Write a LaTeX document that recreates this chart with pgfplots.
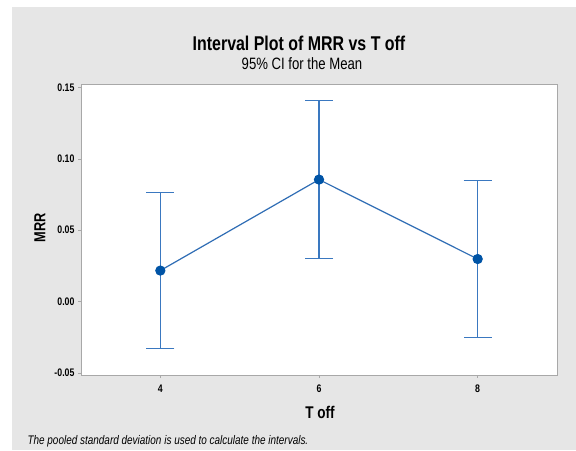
\documentclass[border=0pt]{standalone}
\usepackage{pgfplots}
\pgfplotsset{compat=1.18}
\usepackage{fontspec}
\setmainfont{Liberation Sans}[FakeStretch=0.8]
\definecolor{bg}{HTML}{E6E6E6}
\definecolor{errblue}{HTML}{3A78C0}
\definecolor{lineblue}{HTML}{2F6DB5}
\definecolor{dotblue}{HTML}{0054A6}
\definecolor{frame}{HTML}{A8A8A8}
\begin{document}
\begin{tikzpicture}[x=1bp,y=1bp]
\fill[white] (0,0) rectangle (576,450);
\fill[bg] (12,0) rectangle (576,443);
\begin{axis}[at={(81bp,75bp)}, anchor=south west, scale only axis,
 width=476bp, height=291bp,
 xmin=3, xmax=9, ymin=-0.0515, ymax=0.1525,
 xtick={4,6,8}, ytick={-0.05,0,0.05,0.1,0.15},
 yticklabel style={/pgf/number format/.cd, fixed, fixed zerofill, precision=2},
 /pgf/number format/assume math mode=true,
 axis line style={draw=frame}, tick style={draw=frame, line width=0.6bp},
 tick align=outside, xtick pos=bottom, ytick pos=left, major tick length=3bp,
 ticklabel style={font=\fontsize{11}{12}\selectfont\bfseries},
 xticklabel style={yshift=-3bp},
 axis background/.style={fill=white},
 clip=false]
\addplot[draw=none, mark=none, forget plot,
  error bars/.cd, y dir=both, y explicit, error mark=|,
  error bar style={errblue, line width=1.2bp},
  error mark options={errblue, line width=1.2bp, mark size=14bp}]
  coordinates {(4,0.0217) +- (0,0.0546) (6,0.0855) +- (0,0.0553) (8,0.0298) +- (0,0.0550)};
\addplot[lineblue, line width=1.2bp, mark=*, mark size=4.5bp,
  mark options={fill=dotblue, draw=dotblue}]
  coordinates {(4,0.0217) (6,0.0855) (8,0.0298)};
\end{axis}
\node[font=\fontsize{20}{22}\selectfont\bfseries] at (299,407) {Interval Plot of MRR vs T off};
\node[font=\fontsize{16.5}{17}\selectfont] at (302,386) {95\% CI for the Mean};
\node[font=\fontsize{16}{16}\selectfont\bfseries, rotate=90] at (40,222) {MRR};
\node[font=\fontsize{17}{17}\selectfont\bfseries] at (320,38) {T off};
\node[font=\fontsize{12.5}{13}\selectfont\itshape, anchor=west] at (24,9) {The pooled standard deviation is used to calculate the intervals.};
\end{tikzpicture}
\end{document}
